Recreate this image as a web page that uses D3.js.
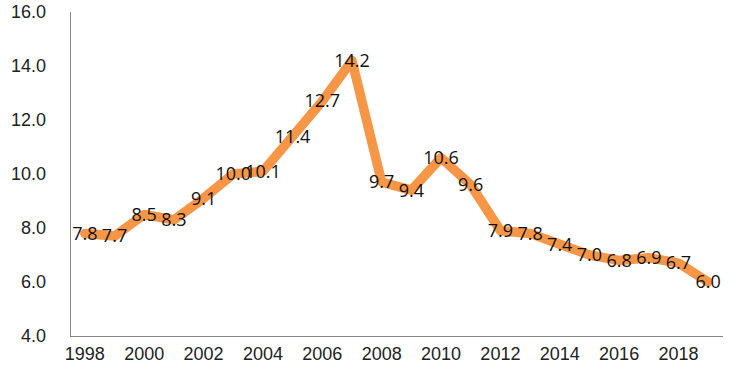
<!DOCTYPE html>
<html>
<head>
<meta charset="utf-8">
<script src="https://cdn.jsdelivr.net/npm/d3@7"></script>
<style>
  body { margin: 0; background: #fff; }
  svg { display: block; font-family: "Open Sans", "Noto Sans", sans-serif; }
  .g-axis text { font-size: 18px; fill: #222; }
  .g-label { font-size: 18px; fill: #111; }
</style>
</head>
<body>
<div id="chart"></div>
<script>
let years = ["1998","1999","2000","2001","2002","2003","2004","2005","2006","2007","2008",
             "2009","2010","2011","2012","2013","2014","2015","2016","2017","2018","2019"];
let values = [7.8, 7.7, 8.5, 8.3, 9.1, 10.0, 10.1, 11.4, 12.7, 14.2, 9.7,
              9.4, 10.6, 9.6, 7.9, 7.8, 7.4, 7.0, 6.8, 6.9, 6.7, 6.0];
let yTicks = [4, 6, 8, 10, 12, 14, 16];
let xTickLabels = years.filter((d, i) => i % 2 == 0);

let width = 737, height = 381;
let margin = {left: 70, right: 14, top: 12, bottom: 45};

let svg = d3.select("#chart").append("svg")
    .attr("width", width)
    .attr("height", height);

let x = d3.scaleBand()
    .domain(years)
    .range([margin.left, width - margin.right]);

let y = d3.scaleLinear()
    .domain([4, 16])
    .range([height - margin.bottom, margin.top]);

// axes lines
svg.append("line")
    .attr("x1", margin.left + 0.5).attr("x2", margin.left + 0.5)
    .attr("y1", y(16)).attr("y2", y(4))
    .attr("stroke", "#868686");
svg.append("line")
    .attr("x1", margin.left).attr("x2", width - margin.right)
    .attr("y1", y(4) + 0.5).attr("y2", y(4) + 0.5)
    .attr("stroke", "#868686");

let yAxis = svg.append("g").attr("class", "g-axis")
    .attr("transform", "translate(" + margin.left + ",0)")
    .call(d3.axisLeft(y).tickValues(yTicks).tickFormat(d3.format(".1f")).tickSize(0).tickPadding(24));
yAxis.select(".domain").remove();

let xAxis = svg.append("g").attr("class", "g-axis")
    .attr("transform", "translate(0," + y(4) + ")")
    .call(d3.axisBottom(x).tickValues(xTickLabels).tickSize(0).tickPadding(11));
xAxis.select(".domain").remove();

let data = years.map((d, i) => ({year: d, value: values[i]}));

let line = d3.line()
    .x(d => x(d.year) + x.bandwidth() / 2)
    .y(d => y(d.value));

svg.append("path")
    .datum(data)
    .attr("d", line)
    .attr("fill", "none")
    .attr("stroke", "#F79646")
    .attr("stroke-width", 9.5)
    .attr("stroke-linejoin", "round")
    .attr("stroke-linecap", "round");

svg.selectAll("text.g-label")
    .data(data)
    .enter().append("text")
    .attr("class", "g-label")
    .attr("x", d => x(d.year) + x.bandwidth() / 2)
    .attr("y", d => y(d.value))
    .attr("dy", "0.35em")
    .attr("text-anchor", "middle")
    .text(d => d3.format(".1f")(d.value));
</script>
</body>
</html>
